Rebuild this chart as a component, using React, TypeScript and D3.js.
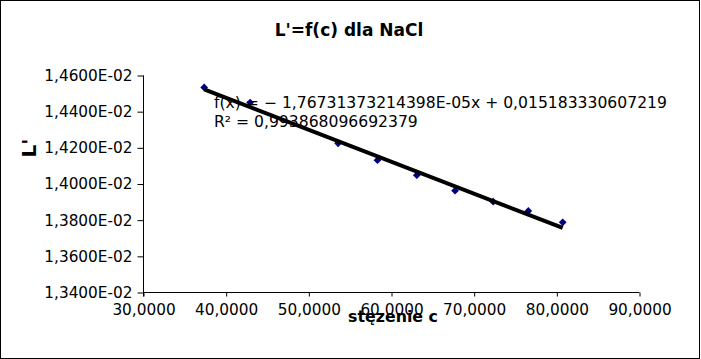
import React, { useEffect, useRef } from "react";
import * as d3 from "d3";

// concentration c (x) and L' (y)
const concentrations = [37.34, 42.9, 53.54, 58.3, 63.06, 67.69, 72.3, 76.55, 80.71];
const conductance = [
  0.014534, 0.01445, 0.014225, 0.014132, 0.014049, 0.013963, 0.013902, 0.013851, 0.013788,
];

// linear trend line shown on the chart
const slope = -1.76731373214398e-5;
const intercept = 0.015183330607219;
const equationLines = [
  "f(x) = \u2212 1,76731373214398E-05x + 0,015183330607219",
  "R\u00b2 = 0,993868096692379",
];

const xTicks = [30, 40, 50, 60, 70, 80, 90];
const yTicks = [0.0134, 0.0136, 0.0138, 0.014, 0.0142, 0.0144, 0.0146];

const fmtX = (v: number) => v.toFixed(4).replace(".", ",");
const fmtY = (v: number) => (v * 100).toFixed(4).replace(".", ",") + "E-02";

export default function App() {
  const ref = useRef<SVGSVGElement>(null);

  useEffect(() => {
    const W = 701,
      H = 359;
    const svg = d3.select(ref.current);
    svg.selectAll("*").remove();
    svg.attr("width", W).attr("height", H);

    const font = "'DejaVu Sans', sans-serif";

    // outer frame
    svg
      .append("rect")
      .attr("x", 0.5)
      .attr("y", 0.5)
      .attr("width", W - 2)
      .attr("height", H - 1)
      .attr("fill", "white")
      .attr("stroke", "black");

    var x = d3.scaleLinear().domain([30, 90]).range([143.5, 639.5]);
    var y = d3.scaleLinear().domain([0.0134, 0.0146]).range([292.5, 75.5]);

    // Y axis
    var yAxis = svg
      .append("g")
      .attr("transform", `translate(${x(30)},0)`)
      .call(
        d3
          .axisLeft(y)
          .tickValues(yTicks)
          .tickSize(6)
          .tickPadding(5)
          .tickFormat((d) => fmtY(+d))
      );
    yAxis.select(".domain").attr("d", `M0,${y(0.0146)}V${y(0.0134) + 4}`);

    // X axis
    var xAxis = svg
      .append("g")
      .attr("transform", `translate(0,${y(0.0134)})`)
      .call(
        d3
          .axisBottom(x)
          .tickValues(xTicks)
          .tickSize(4)
          .tickPadding(8)
          .tickFormat((d) => fmtX(+d))
      );
    xAxis.select(".domain").attr("d", `M${x(30)},0H${x(90)}`);

    svg
      .selectAll(".tick text")
      .attr("font-family", font)
      .attr("font-size", 15.3)
      .attr("fill", "black");
    svg.selectAll(".tick line, .domain").attr("stroke", "black");

    // data points
    const pts = concentrations.map((c, i) => ({ c, v: conductance[i] }));
    svg
      .append("g")
      .selectAll("path")
      .data(pts)
      .join("path")
      .attr("d", d3.symbol(d3.symbolSquare, 30))
      .attr("transform", (d) => `translate(${x(d.c)},${y(d.v)}) rotate(45)`)
      .attr("fill", "#000080");

    // trend line
    const c0 = d3.min(concentrations)!,
      c1 = d3.max(concentrations)!;
    svg
      .append("line")
      .attr("x1", x(c0))
      .attr("y1", y(slope * c0 + intercept))
      .attr("x2", x(c1))
      .attr("y2", y(slope * c1 + intercept))
      .attr("stroke", "black")
      .attr("stroke-width", 4);

    // equation label
    svg
      .append("g")
      .selectAll("text")
      .data(equationLines)
      .join("text")
      .attr("x", 214)
      .attr("y", (d, i) => 108 + i * 19)
      .attr("font-family", font)
      .attr("font-size", 15.6)
      .text((d) => d);

    // title
    svg
      .append("text")
      .attr("x", 349)
      .attr("y", 36)
      .attr("text-anchor", "middle")
      .attr("font-family", font)
      .attr("font-weight", "bold")
      .attr("font-size", 17)
      .text("L'=f(c) dla NaCl");

    // axis titles
    svg
      .append("text")
      .attr("x", 393)
      .attr("y", 322)
      .attr("text-anchor", "middle")
      .attr("font-family", font)
      .attr("font-weight", "bold")
      .attr("font-size", 15.8)
      .text("stęzenie c");

    svg
      .append("text")
      .attr("transform", "translate(36,148) rotate(-90)")
      .attr("text-anchor", "middle")
      .attr("font-family", font)
      .attr("font-weight", "bold")
      .attr("font-size", 20)
      .text("L'");
  }, []);

  return (
    <svg
      ref={ref}
      style={{ position: "absolute", left: 0, top: 0, display: "block" }}
    ></svg>
  );
}
